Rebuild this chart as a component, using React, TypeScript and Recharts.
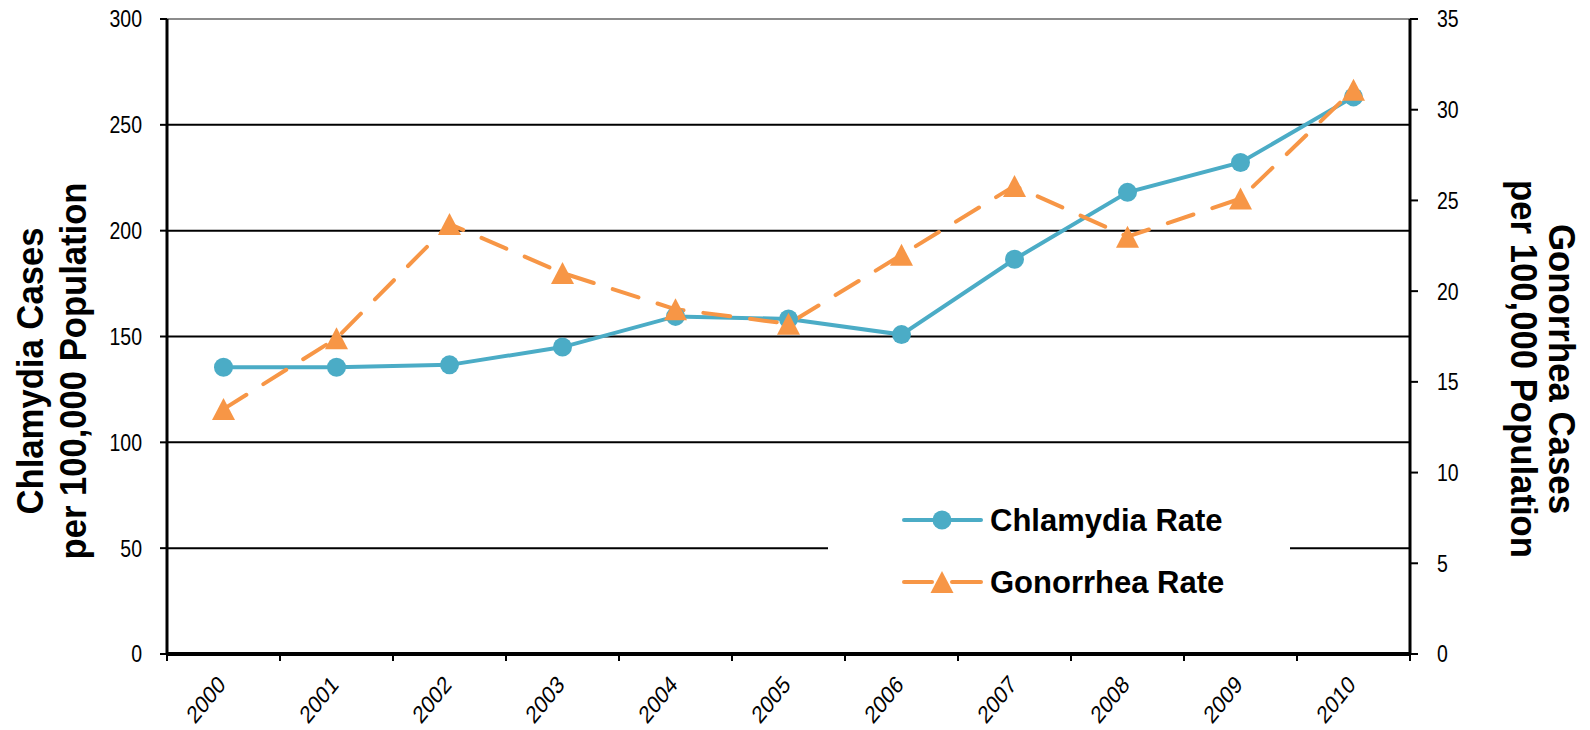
import React from 'react';
import { LineChart, Line, XAxis, YAxis, CartesianGrid, ReferenceLine, Legend } from 'recharts';

const years = ['2000', '2001', '2002', '2003', '2004', '2005', '2006', '2007', '2008', '2009', '2010'];
const chlamydiaRate = [135.5, 135.5, 136.6, 145.0, 159.5, 158.3, 150.9, 186.5, 218.1, 232.2, 263.2];
const gonorrheaRate = [13.5, 17.4, 23.7, 21.0, 19.0, 18.2, 22.0, 25.8, 23.0, 25.1, 31.1];
const leftTicks = [0, 50, 100, 150, 200, 250, 300];
const rightTicks = [0, 5, 10, 15, 20, 25, 30, 35];
const leftTitle = ['Chlamydia Cases', 'per 100,000 Population'];
const rightTitle = ['Gonorrhea Cases', 'per 100,000 Population'];
const seriesNames = ['Chlamydia Rate', 'Gonorrhea Rate'];

const TEAL = '#4BACC6';
const ORANGE = '#F79646';
const FONT = '"Liberation Sans", Arial, sans-serif';

const data = years.map((y, i) => ({
  idx: i,
  year: y,
  chlamydia: chlamydiaRate[i],
  gonorrhea: gonorrheaRate[i],
}));

const xTicks: number[] = [];
for (let i = 0; i <= years.length * 2; i++) xTicks.push(i / 2 - 0.5);

const W = 1590;
const H = 730;
const PLOT_TOP = 19;
const X_AXIS_H = 76;
const LEFT_W = 167;
const RIGHT_W = 180;
const STRETCH = 1.2;

const XTick = (props: any) => {
  const { x, y, payload } = props;
  const v = payload.value as number;
  const axisY = y - 7;
  if (Math.abs(v - Math.round(v)) > 0.01) {
    return <line x1={x} y1={axisY} x2={x} y2={axisY + 7} stroke="#000" strokeWidth={2} />;
  }
  const label = years[Math.round(v)];
  const px = x + 3;
  const py = axisY + 32;
  return (
    <text
      x={0}
      y={0}
      transform={`translate(${px}, ${py}) scale(1, 1.24) rotate(-45)`}
      textAnchor="end"
      fontSize={20}
      fontFamily={FONT}
      fill="#000"
    >
      {label}
    </text>
  );
};

const YTick = (props: any) => {
  const { x, y, payload, anchor } = props;
  return (
    <text
      x={0}
      y={0}
      dy="0.36em"
      transform={`translate(${x}, ${y}) scale(1, ${STRETCH})`}
      textAnchor={anchor}
      fontSize={19.5}
      fontFamily={FONT}
      fill="#000"
    >
      {payload.value}
    </text>
  );
};

const CircleDot = (props: any) => {
  const { cx, cy } = props;
  if (cx == null || cy == null) return null;
  return <circle cx={cx} cy={cy} r={9.5} fill={TEAL} stroke="none" />;
};

const TriangleDot = (props: any) => {
  const { cx, cy } = props;
  if (cx == null || cy == null) return null;
  const h = 22;
  const w = 23;
  return (
    <polygon
      points={`${cx},${cy - h / 2} ${cx + w / 2},${cy + h / 2} ${cx - w / 2},${cy + h / 2}`}
      fill={ORANGE}
      stroke="none"
    />
  );
};

const LegendContent = () => (
  <svg width={462} height={150} style={{ display: 'block' }}>
    <line x1={76} y1={50} x2={153} y2={50} stroke={TEAL} strokeWidth={4} strokeLinecap="round" />
    <circle cx={114} cy={50} r={9.5} fill={TEAL} />
    <text x={162} y={50} dy="0.36em" fontSize={31} fontWeight="bold" fontFamily={FONT} fill="#000">
      {seriesNames[0]}
    </text>
    <line x1={76} y1={112} x2={104} y2={112} stroke={ORANGE} strokeWidth={4} strokeLinecap="round" />
    <line x1={124} y1={112} x2={153} y2={112} stroke={ORANGE} strokeWidth={4} strokeLinecap="round" />
    <polygon points={`114,${112 - 11} 125.5,${112 + 11} 102.5,${112 + 11}`} fill={ORANGE} />
    <text x={162} y={112} dy="0.36em" fontSize={31} fontWeight="bold" fontFamily={FONT} fill="#000">
      {seriesNames[1]}
    </text>
  </svg>
);

export default function App() {
  const midY = 371;
  return (
    <div style={{ position: 'absolute', left: 0, top: 0, width: W, height: H, background: '#fff' }}>
      <LineChart
        width={W}
        height={H}
        data={data}
        margin={{ top: PLOT_TOP, right: 0, bottom: 0, left: 0 }}
      >
        <CartesianGrid yAxisId="left" vertical={false} stroke="#000" strokeWidth={2} />
        <ReferenceLine yAxisId="left" y={300} stroke="#8c8c8c" strokeWidth={2} />
        <XAxis
          dataKey="idx"
          type="number"
          domain={[-0.5, years.length - 0.5]}
          ticks={xTicks}
          interval={0}
          tickLine={false}
          tickSize={7}
          tickMargin={0}
          height={X_AXIS_H}
          axisLine={{ stroke: '#000', strokeWidth: 4 }}
          tick={<XTick />}
          allowDecimals
        />
        <YAxis
          yAxisId="left"
          orientation="left"
          width={LEFT_W}
          domain={[0, 300]}
          ticks={leftTicks}
          interval={0}
          tickSize={7}
          tickMargin={18}
          axisLine={{ stroke: '#000', strokeWidth: 3 }}
          tickLine={{ stroke: '#000', strokeWidth: 2 }}
          tick={<YTick anchor="end" />}
        />
        <YAxis
          yAxisId="right"
          orientation="right"
          width={RIGHT_W}
          domain={[0, 35]}
          ticks={rightTicks}
          interval={0}
          tickSize={8}
          tickMargin={19}
          axisLine={{ stroke: '#000', strokeWidth: 3 }}
          tickLine={{ stroke: '#000', strokeWidth: 2 }}
          tick={<YTick anchor="start" />}
        />
        <Line
          yAxisId="left"
          type="linear"
          dataKey="chlamydia"
          name={seriesNames[0]}
          stroke={TEAL}
          strokeWidth={4}
          dot={<CircleDot />}
          activeDot={false}
          isAnimationActive={false}
        />
        <Line
          yAxisId="right"
          type="linear"
          dataKey="gonorrhea"
          name={seriesNames[1]}
          stroke={ORANGE}
          strokeWidth={4}
          strokeDasharray="27 20"
          strokeLinecap="round"
          dot={<TriangleDot />}
          activeDot={false}
          isAnimationActive={false}
        />
        <Legend
          layout="vertical"
          align="center"
          verticalAlign="middle"
          content={<LegendContent />}
          wrapperStyle={{ position: 'absolute', left: 828, top: 470, width: 462, height: 150, background: '#fff' }}
        />
      </LineChart>
      <svg
        width={W}
        height={H}
        style={{ position: 'absolute', left: 0, top: 0, pointerEvents: 'none' }}
      >
        <g fontFamily={FONT} fontWeight="bold" fontSize={37} fill="#000">
          <text transform={`translate(30, ${midY}) rotate(-90)`} textAnchor="middle" dy="0.36em" textLength={287} lengthAdjust="spacingAndGlyphs">
            {leftTitle[0]}
          </text>
          <text transform={`translate(73, ${midY}) rotate(-90)`} textAnchor="middle" dy="0.36em" textLength={377} lengthAdjust="spacingAndGlyphs">
            {leftTitle[1]}
          </text>
          <text transform={`translate(1562, ${midY - 2}) rotate(90)`} textAnchor="middle" dy="0.36em" textLength={290} lengthAdjust="spacingAndGlyphs">
            {rightTitle[0]}
          </text>
          <text transform={`translate(1524, ${midY - 2}) rotate(90)`} textAnchor="middle" dy="0.36em" textLength={378} lengthAdjust="spacingAndGlyphs">
            {rightTitle[1]}
          </text>
        </g>
      </svg>
    </div>
  );
}
